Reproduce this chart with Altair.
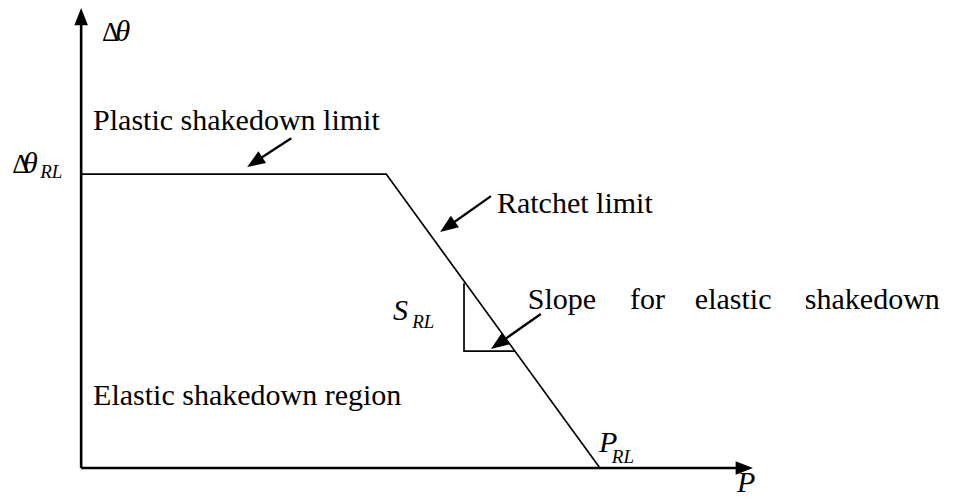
import math
import numpy as np
import pandas as pd
import altair as alt

# ---- diagram in normalised units: x = P / P_RL, y = Δθ / Δθ_RL ----
X_DOMAIN = [-0.141, 1.669]
Y_DOMAIN = [-0.085, 1.565]
W, H = 939, 485

# axes: origin -> arrow tip
axis_names = ["x", "y"]
axis_tip_x = [1.295, 0.0]
axis_tip_y = [0.0, 1.565]

# ratchet-limit boundary
limit_x = [0.0, 0.588, 1.0]
limit_y = [1.0, 1.0, 0.0]

# slope triangle
tri_x = [0.738, 0.738, 0.836]
tri_y = [0.629, 0.398, 0.398]

# annotation arrows (tail -> tip)
arrow_names = ["plastic", "ratchet", "slope"]
arrow_tail_x = [0.405, 0.790, 0.886]
arrow_tail_y = [1.122, 0.925, 0.524]
arrow_tip_x = [0.320, 0.692, 0.790]
arrow_tip_y = [1.024, 0.803, 0.405]

# labels
reg_text = ["Plastic shakedown limit", "Ratchet limit", "Slope", "for",
            "elastic", "shakedown", "Elastic shakedown region"]
reg_x = [0.023, 0.8015, 0.861, 1.058, 1.183, 1.395, 0.023]
reg_y = [1.150, 0.867, 0.541, 0.541, 0.541, 0.541, 0.214]

greek_text = ["Δ", "Δ"]
greek_x = [0.040, -0.133]
greek_y = [1.452, 1.003]

ital_text = ["θ", "θ", "S", "P", "P"]
ital_x = [0.066, -0.112, 0.601, 0.998, 1.264]
ital_y = [1.452, 1.003, 0.503, 0.054, -0.080]

sub_text = ["RL", "RL", "RL"]
sub_x = [-0.079, 0.638, 1.023]
sub_y = [0.986, 0.476, 0.017]

# ---- helpers ----
PXX = W / (X_DOMAIN[1] - X_DOMAIN[0])
PXY = H / (Y_DOMAIN[1] - Y_DOMAIN[0])

xs = alt.Scale(domain=X_DOMAIN, nice=False, zero=False)
ys = alt.Scale(domain=Y_DOMAIN, nice=False, zero=False)
FONT = "Liberation Serif"
HEAD = "M0,0L0.78,2L-0.78,2Z"


def screen_dir(x0, y0, x1, y1):
    sdx = (x1 - x0) * PXX
    sdy = -(y1 - y0) * PXY
    n = math.hypot(sdx, sdy)
    return sdx / n, sdy / n


def angle_of(x0, y0, x1, y1):
    sdx, sdy = screen_dir(x0, y0, x1, y1)
    return round(math.degrees(math.atan2(sdx, -sdy)) % 360, 2)


def back_off(x0, y0, x1, y1, px):
    ux, uy = screen_dir(x0, y0, x1, y1)
    return x1 - ux * px / PXX, y1 + uy * px / PXY


XE = alt.X("x:Q", scale=xs, axis=None)
YE = alt.Y("y:Q", scale=ys, axis=None)

heads = []

# axis shafts
ax_rows = []
for n, tx, ty in zip(axis_names, axis_tip_x, axis_tip_y):
    ex, ey = back_off(0.0, 0.0, tx, ty, 8)
    ax_rows += [dict(seg=n, i=0, x=0.0, y=0.0), dict(seg=n, i=1, x=ex, y=ey)]
    heads.append(alt.Chart(pd.DataFrame(dict(x=[tx], y=[ty]))).mark_point(
        shape=HEAD, filled=True, color="black", opacity=1, strokeWidth=0,
        size=300, angle=angle_of(0.0, 0.0, tx, ty)).encode(x=XE, y=YE))
axis_df = pd.DataFrame(ax_rows)

# thin diagram lines
thin_rows = [dict(seg="limit", i=i, x=a, y=b) for i, (a, b) in enumerate(zip(limit_x, limit_y))]
thin_rows += [dict(seg="tri", i=i, x=a, y=b) for i, (a, b) in enumerate(zip(tri_x, tri_y))]
thin_df = pd.DataFrame(thin_rows)

# arrow shafts and heads
sh_rows = []
for n, x0, y0, x1, y1 in zip(arrow_names, arrow_tail_x, arrow_tail_y, arrow_tip_x, arrow_tip_y):
    ex, ey = back_off(x0, y0, x1, y1, 10)
    sh_rows += [dict(seg=n, i=0, x=x0, y=y0), dict(seg=n, i=1, x=ex, y=ey)]
    heads.append(alt.Chart(pd.DataFrame(dict(x=[x1], y=[y1]))).mark_point(
        shape=HEAD, filled=True, color="black", opacity=1, strokeWidth=0,
        size=324, angle=angle_of(x0, y0, x1, y1)).encode(x=XE, y=YE))
shaft_df = pd.DataFrame(sh_rows)


def lines(df, sw):
    return alt.Chart(df).mark_line(color="black", strokeWidth=sw).encode(
        x=XE, y=YE, detail="seg:N", order="i:O",
    )


def texts(t, x, y, size, italic):
    df = pd.DataFrame(dict(t=t, x=x, y=y))
    kw = dict(font=FONT, fontSize=size, color="black", align="left", baseline="alphabetic")
    if italic:
        kw["fontStyle"] = "italic"
    return alt.Chart(df).mark_text(**kw).encode(x=XE, y=YE, text="t:N")


chart = alt.layer(
    texts(reg_text, reg_x, reg_y, 30, False),
    texts(greek_text, greek_x, greek_y, 27, False),
    texts(ital_text, ital_x, ital_y, 30, True),
    texts(sub_text, sub_x, sub_y, 19, True),
    lines(axis_df, 2.6),
    lines(thin_df, 1.7),
    lines(shaft_df, 2.3),
    *heads,
).properties(
    width=W, height=H, padding=0, autosize=alt.AutoSizeParams(type="none"),
    background="white",
).configure_view(stroke=None)

chart.save("out.html", embed_options={"renderer": "svg", "actions": False})
